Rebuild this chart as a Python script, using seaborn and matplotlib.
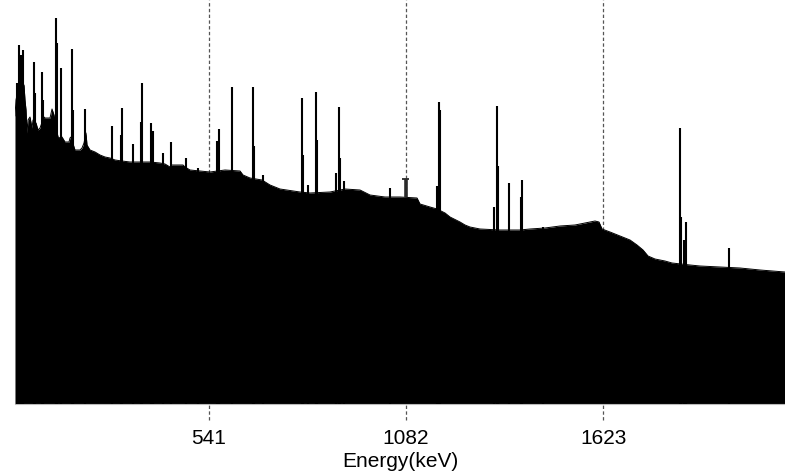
import matplotlib
matplotlib.use("Agg")
import matplotlib.pyplot as plt
import seaborn as sns
import numpy as np

# Continuum outline of the spectrum (energy in keV, counts in arbitrary units)
cont_energy = [10, 12.7, 15.5, 18.2, 23.7, 29.2, 34.7, 37.4, 40.2, 42.9, 45.6, 51.1,
               56.6, 59.4, 67.6, 73.1, 78.6, 89.5, 92.3, 106, 111.5, 114.2, 116.9,
               127.9, 133.4, 138.9, 147.1, 158.1, 160.8, 163.6, 171.8, 174.5, 188.2,
               193.7, 199.2, 204.7, 207.4, 215.7, 229.4, 243.1, 256.8, 270.5, 284.2,
               303.4, 325.3, 380.2, 407.6, 421.3, 435, 440.5, 470.7, 476.1, 489.9,
               517.3, 544.7, 585.8, 627, 635.2, 654.4, 687.3, 709.2, 736.6, 791.5,
               818.9, 873.7, 914.9, 956, 983.4, 1024.5, 1065.7, 1112.3, 1120.5,
               1147.9, 1167.1, 1189.1, 1202.8, 1230.2, 1243.9, 1257.6, 1285, 1339.9,
               1394.7, 1422.1, 1463.3, 1504.4, 1545.5, 1573, 1600.4, 1611.3, 1619.6,
               1641.5, 1668.9, 1696.3, 1715.5, 1732, 1745.7, 1764.9, 1792.3, 1811.5,
               1860.9, 1888.3, 1943.1, 1998, 2052.8, 2121.3]
cont_counts = [288, 304, 309, 319, 307, 319, 319, 304, 294, 271, 284, 287,
               276, 284, 281, 274, 276, 287, 286, 286, 295, 292, 289,
               267, 266, 267, 262, 262, 266, 267, 257, 254, 254,
               256, 261, 271, 259, 254, 252, 249, 247, 246, 244,
               243, 242, 242, 241, 240, 237, 239, 239, 237, 234,
               233, 232, 234, 233, 229, 226, 224, 219, 215, 212,
               211, 212, 215, 214, 209, 207, 207, 206, 200,
               197, 195, 191, 187, 182, 179, 177, 175, 174,
               174, 175, 176, 178, 179, 181, 183, 182, 175,
               172, 168, 164, 159, 154, 148, 145, 143, 141,
               139, 138, 137, 136, 134, 132]

# Photopeaks (energy in keV, top counts)
peak_energy = [15.5, 21, 26.5, 31.9, 62.1, 64.8, 84, 86.8, 122.4, 125.2, 136.1,
               166.3, 169, 201.9, 276, 300.7, 303.4, 333.6, 355.5, 358.2, 382.9,
               388.4, 415.8, 437.8, 478.9, 511.8, 563.9, 569.4, 605, 662.6, 665.3,
               690, 797, 801, 813.4, 835.3, 838, 890.2, 898.4, 901.2, 912.1, 1038.3,
               1167.1, 1172.6, 1175.3, 1323.4, 1331.6, 1334.4, 1364.5, 1397.5,
               1400.2, 1457.8, 1833.4, 1836.2, 1844.4, 1849.9, 1967.8]
peak_counts = [321, 359, 349, 354, 342, 311, 332, 304, 386, 361, 336,
               355, 294, 295, 278, 269, 296, 260, 282, 321, 281,
               273, 251, 262, 246, 236, 263, 275, 317, 317, 258,
               229, 306, 249, 219, 312, 264, 231, 297, 246, 223, 216,
               218, 302, 294, 197, 298, 238, 221, 207,
               224, 177, 276, 187, 164, 182, 156]

# Region marker near 1082 keV
marker_energy = 1082
marker_low = 207
marker_high = 225
marker_halfwidth = 9.6

tick_values = [541, 1082, 1623]
tick_labels = ["541", "1082", "1623"]
x_range = (10, 2121.3)
y_range = (0, 404)

sns.set_theme(style="white")
plt.rcParams['font.family'] = ['Liberation Sans', 'DejaVu Sans']

fig = plt.figure(figsize=(7.85, 4.75), dpi=100)
ax = fig.add_axes([15 / 785, 71 / 475, 770 / 785, 404 / 475])

ax.fill_between(cont_energy, 0, cont_counts, color="black", lw=0, zorder=2)
sns.lineplot(x=cont_energy, y=cont_counts, ax=ax, color="black", lw=0.7,
             sort=False, zorder=3)
ax.vlines(peak_energy, 0, peak_counts, color="black", lw=1.5, zorder=3)

# marker
ax.vlines([marker_energy], marker_low, marker_high, color="#2a2a2a", lw=2.6, zorder=4)
ax.hlines([marker_high], marker_energy - marker_halfwidth,
          marker_energy + marker_halfwidth, color="#2a2a2a", lw=1.3, zorder=4)

# dashed grid lines extending below the axis
for t in tick_values:
    ax.axvline(t, ymin=-16 / 404, ymax=1, color="#555555", lw=0.9,
               ls=(0, (2.7, 1.9)), clip_on=False, zorder=1)

ax.set_xlim(*x_range)
ax.set_ylim(*y_range)
ax.set_xticks(tick_values)
ax.set_xticklabels(tick_labels)
ax.set_yticks([])
ax.tick_params(axis="x", length=0, pad=18, labelsize=15, colors="black")
ax.set_xlabel("Energy(keV)", fontsize=15, labelpad=3, color="black")
for s in ["top", "left", "right"]:
    ax.spines[s].set_visible(False)
ax.spines["bottom"].set_color("#bbbbbb")
ax.spines["bottom"].set_linewidth(0.8)

fig.savefig("out.png", dpi=100)
